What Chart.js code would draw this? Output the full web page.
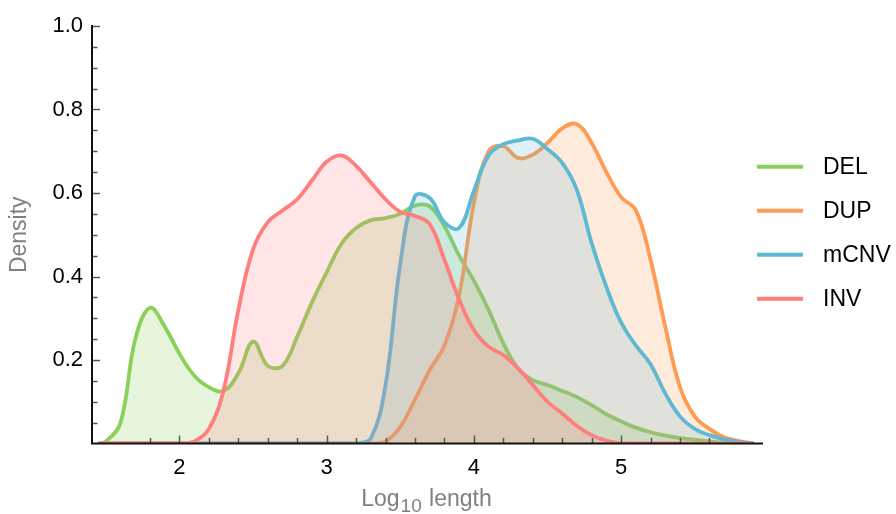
<!DOCTYPE html>
<html>
<head>
<meta charset="utf-8">
<script src="https://cdn.jsdelivr.net/npm/chart.js@4.4.1/dist/chart.umd.min.js"></script>
<style>
  html, body { margin: 0; padding: 0; background: #fff; }
  #wrap { width: 896px; height: 514px; }
</style>
</head>
<body>
<div id="wrap"><canvas id="densityChart"></canvas></div>
<script>
// log10 length grid
const logLength = [1.45, 1.5, 1.6, 1.7, 1.8, 1.9, 2.0, 2.1, 2.2, 2.3, 2.4, 2.5, 2.6, 2.7, 2.8, 2.9,
  3.0, 3.1, 3.2, 3.3, 3.4, 3.5, 3.6, 3.7, 3.8, 3.9, 4.0, 4.1, 4.2, 4.3, 4.4, 4.5, 4.6, 4.7, 4.8, 4.9,
  5.0, 5.1, 5.2, 5.3, 5.4, 5.5, 5.6, 5.7, 5.8, 5.9];

const delDensity = [0, 0.005, 0.05, 0.25, 0.325, 0.28, 0.215, 0.163, 0.135, 0.126, 0.168, 0.244, 0.186, 0.186, 0.256, 0.338,
  0.41, 0.478, 0.516, 0.535, 0.54, 0.55, 0.57, 0.568, 0.52, 0.45, 0.39, 0.32, 0.24, 0.18, 0.152, 0.14, 0.126, 0.111, 0.092, 0.07,
  0.053, 0.038, 0.027, 0.019, 0.013, 0.009, 0.005, 0.002, 0, 0];

const dupDensity = [0, 0, 0, 0, 0, 0, 0, 0, 0, 0, 0, 0, 0, 0, 0, 0,
  0, 0, 0, 0, 0.005, 0.04, 0.105, 0.176, 0.235, 0.355, 0.575, 0.70, 0.712, 0.684, 0.692, 0.72, 0.755, 0.765, 0.72, 0.65,
  0.59, 0.559, 0.44, 0.28, 0.135, 0.065, 0.035, 0.015, 0.006, 0];

const mcnvDensity = [0, 0, 0, 0, 0, 0, 0, 0, 0, 0, 0, 0, 0, 0, 0, 0,
  0, 0, 0, 0.012, 0.14, 0.43, 0.592, 0.588, 0.53, 0.516, 0.605, 0.69, 0.717, 0.726, 0.73, 0.705, 0.672, 0.607, 0.48, 0.375,
  0.29, 0.235, 0.19, 0.12, 0.065, 0.035, 0.02, 0.01, 0.004, 0];

const invDensity = [0, 0, 0, 0, 0, 0, 0, 0.005, 0.035, 0.128, 0.32, 0.465, 0.53, 0.558, 0.585, 0.63,
  0.675, 0.69, 0.665, 0.625, 0.585, 0.555, 0.545, 0.525, 0.44, 0.345, 0.272, 0.232, 0.212, 0.18, 0.14, 0.10, 0.072, 0.042, 0.02, 0.007,
  0, 0, 0, 0, 0, 0, 0, 0, 0, 0];

const seriesNames = ['DEL', 'DUP', 'mCNV', 'INV'];
const seriesColors = ['#8bd05a', '#ff9b52', '#5eb9d3', '#ff7f7f'];
const seriesFills = ['rgba(139,208,90,0.22)', 'rgba(255,155,82,0.2)', 'rgba(94,185,211,0.2)', 'rgba(255,127,127,0.2)'];
const seriesValues = [delDensity, dupDensity, mcnvDensity, invDensity];

const near = (v, step) => Math.abs(v / step - Math.round(v / step)) < 1e-6;

const datasets = seriesNames.map((name, i) => ({
  label: name,
  data: logLength.map((x, k) => ({ x: x, y: seriesValues[i][k] })),
  borderColor: seriesColors[i],
  backgroundColor: seriesFills[i],
  borderWidth: 3.8,
  pointRadius: 0,
  fill: 'origin',
  tension: 0.4,
  order: seriesNames.length - i
}));

// inward ticks, axis lines, x title with subscript, legend
const decor = {
  id: 'decor',
  afterDatasetsDraw(chart) {
    const { ctx, chartArea: a, scales: { x, y } } = chart;
    ctx.save();
    ctx.strokeStyle = '#555';
    ctx.lineWidth = 1.5;
    y.ticks.forEach(t => {
      if (t.value <= 0 || !near(t.value, 0.05)) return;
      const py = Math.round(y.getPixelForValue(t.value)) + 0.5;
      const len = near(t.value, 0.2) ? 8 : 5.5;
      ctx.beginPath(); ctx.moveTo(a.left, py); ctx.lineTo(a.left + len, py); ctx.stroke();
    });
    x.ticks.forEach(t => {
      if (!near(t.value, 0.2)) return;
      const px = Math.round(x.getPixelForValue(t.value)) + 0.5;
      const len = near(t.value, 1) ? 8 : 5.5;
      ctx.beginPath(); ctx.moveTo(px, a.bottom); ctx.lineTo(px, a.bottom - len); ctx.stroke();
    });
    ctx.strokeStyle = '#111';
    ctx.lineWidth = 2;
    ctx.beginPath();
    ctx.moveTo(a.left, a.top - 1);
    ctx.lineTo(a.left, a.bottom);
    ctx.lineTo(a.right, a.bottom);
    ctx.stroke();

    // x title: Log10 length
    ctx.fillStyle = '#808080';
    ctx.textBaseline = 'alphabetic';
    ctx.textAlign = 'left';
    const big = '23px "Liberation Sans", Arial, sans-serif';
    const small = '19px "Liberation Sans", Arial, sans-serif';
    ctx.font = big;
    const w1 = ctx.measureText('Log').width;
    const w3 = ctx.measureText(' length').width;
    ctx.font = small;
    const w2 = ctx.measureText('10').width;
    const total = w1 + w2 + w3 + 2;
    let tx = (a.left + a.right) / 2 - total / 2 - 1;
    const by = 506;
    ctx.font = big;
    ctx.fillText('Log', tx, by);
    ctx.font = small;
    ctx.fillText('10', tx + w1 + 1, by + 6);
    ctx.font = big;
    ctx.fillText(' length', tx + w1 + w2 + 2, by);

    // legend
    ctx.font = '23px "Liberation Sans", Arial, sans-serif';
    ctx.fillStyle = '#000';
    ctx.textBaseline = 'middle';
    ctx.lineWidth = 4;
    const mid = (a.top + a.bottom) / 2;
    chart.data.datasets.forEach((ds, i) => {
      const ly = mid - 1.5 * 44 + i * 44 - 2;
      ctx.strokeStyle = ds.borderColor;
      ctx.beginPath(); ctx.moveTo(757, ly); ctx.lineTo(803, ly); ctx.stroke();
      ctx.fillText(ds.label, 823, ly + 1);
    });
    ctx.restore();
  }
};

new Chart(document.getElementById('densityChart'), {
  type: 'line',
  data: { datasets: datasets },
  plugins: [decor],
  options: {
    responsive: true,
    maintainAspectRatio: false,
    animation: false,
    layout: { padding: { left: 0, right: 133, top: 26, bottom: 0 } },
    plugins: {
      legend: { display: false },
      tooltip: { enabled: false }
    },
    scales: {
      x: {
        type: 'linear',
        min: 1.406,
        max: 5.964,
        afterFit: (s) => { s.height = 70.5; },
        grid: { display: false, drawTicks: false },
        border: { display: false },
        ticks: {
          stepSize: 0.2,
          autoSkip: false,
          maxRotation: 0,
          padding: 11,
          color: '#000',
          font: { family: '"Liberation Sans", Arial, sans-serif', size: 22 },
          callback: (v) => near(v, 1) ? String(Math.round(v)) : ''
        }
      },
      y: {
        min: 0,
        max: 1,
        afterFit: (s) => { s.width = 92; },
        grid: { display: false, drawTicks: false },
        border: { display: false },
        ticks: {
          stepSize: 0.05,
          autoSkip: false,
          padding: 9,
          color: '#000',
          font: { family: '"Liberation Sans", Arial, sans-serif', size: 22 },
          callback: (v) => (v > 0 && near(v, 0.2)) ? v.toFixed(1) : ''
        },
        title: {
          display: true,
          text: 'Density',
          color: '#808080',
          padding: { top: 6, bottom: 0 },
          font: { family: '"Liberation Sans", Arial, sans-serif', size: 23 }
        }
      }
    }
  }
});
</script>
</body>
</html>
